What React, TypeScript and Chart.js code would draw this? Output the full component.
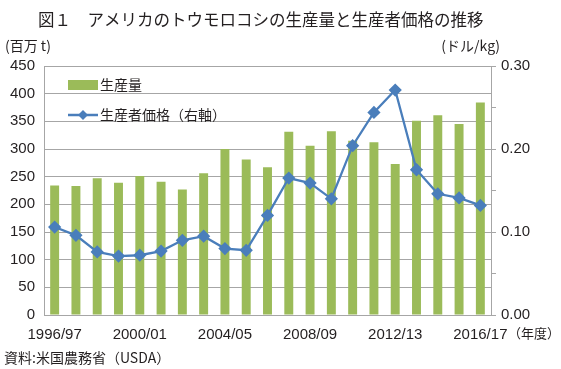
import React, { useEffect, useRef } from "react";
import { Chart, registerables } from "chart.js";

Chart.register(...registerables);

const categories = [
  "1996/97", "1997/98", "1998/99", "1999/00", "2000/01", "2001/02", "2002/03",
  "2003/04", "2004/05", "2005/06", "2006/07", "2007/08", "2008/09", "2009/10",
  "2010/11", "2011/12", "2012/13", "2013/14", "2014/15", "2015/16", "2016/17",
];

const production = [
  234, 233, 247, 239, 251, 241, 227, 256, 300, 281, 267,
  331, 306, 332, 315, 312, 273, 351, 361, 345, 384,
];

const price = [
  0.106, 0.096, 0.076, 0.071, 0.072, 0.077, 0.090, 0.095, 0.080, 0.078, 0.120,
  0.165, 0.159, 0.140, 0.204, 0.244, 0.271, 0.175, 0.146, 0.141, 0.132,
];

const titleText = "図１　アメリカのトウモロコシの生産量と生産者価格の推移";
const leftUnit = "(百万 t)";
const rightUnit = "(ドル/kg)";
const xUnit = "（年度）";
const sourceText = "資料:米国農務省（USDA）";
const barLabel = "生産量";
const lineLabel = "生産者価格（右軸）";

const GREEN = "#9bbb59";
const BLUE = "#4a7ebb";
const GRID = "#a6a6a6";
const TEXT = "#231f20";
const CJK = '"Noto Sans CJK JP", "Noto Sans", sans-serif';
const NUM = '"Liberation Sans", Arial, sans-serif';

const textPlugin = {
  id: "textPlugin",
  afterDraw(chart: any) {
    const ctx = chart.ctx;
    const area = chart.chartArea;
    ctx.save();
    ctx.fillStyle = TEXT;
    ctx.textBaseline = "middle";
    // title
    ctx.font = `16.5px ${CJK}`;
    ctx.textAlign = "left";
    ctx.fillText(titleText, 38, 20);
    // units
    ctx.font = `14px ${CJK}`;
    ctx.fillText(leftUnit, 5, 46);
    ctx.textAlign = "right";
    ctx.fillText(rightUnit, 500, 46);
    ctx.textAlign = "left";
    ctx.font = `13px ${CJK}`;
    ctx.fillText(xUnit, 508, 333);
    ctx.font = `14px ${CJK}`;
    ctx.fillText(sourceText, 4, 358);

    // legend
    const lx = area.left + 24;
    const y1 = 85;
    const y2 = 115;
    ctx.fillStyle = GREEN;
    ctx.fillRect(lx, y1 - 5, 30, 10);
    ctx.strokeStyle = BLUE;
    ctx.lineWidth = 2.5;
    ctx.beginPath();
    ctx.moveTo(lx, y2);
    ctx.lineTo(lx + 30, y2);
    ctx.stroke();
    ctx.fillStyle = BLUE;
    ctx.beginPath();
    const cx = lx + 15;
    const r = 5;
    ctx.moveTo(cx, y2 - r);
    ctx.lineTo(cx + r, y2);
    ctx.lineTo(cx, y2 + r);
    ctx.lineTo(cx - r, y2);
    ctx.closePath();
    ctx.fill();
    ctx.fillStyle = TEXT;
    ctx.font = `14px ${CJK}`;
    ctx.textAlign = "left";
    ctx.fillText(barLabel, lx + 32, y1);
    ctx.fillText(lineLabel, lx + 32, y2);
    ctx.restore();
  },
};

export default function App() {
  const ref = useRef<HTMLCanvasElement>(null);

  useEffect(() => {
    if (!ref.current) return;
    const chart = new Chart(ref.current, {
      type: "bar",
      data: {
        labels: categories,
        datasets: [
          {
            type: "bar",
            label: barLabel,
            data: production,
            backgroundColor: GREEN,
            yAxisID: "y",
            barPercentage: 0.42,
            categoryPercentage: 1,
            order: 2,
          },
          {
            type: "line",
            label: lineLabel,
            data: price,
            borderColor: BLUE,
            backgroundColor: BLUE,
            borderWidth: 2.3,
            pointStyle: "rectRot",
            pointRadius: 5,
            pointBackgroundColor: BLUE,
            pointBorderColor: BLUE,
            yAxisID: "y1",
            tension: 0,
            order: 1,
          } as any,
        ],
      },
      options: {
        responsive: false,
        animation: false,
        devicePixelRatio: 1,
        layout: { padding: { top: 66, left: 0, right: 0, bottom: 0 } },
        plugins: {
          legend: { display: false },
          title: { display: false },
          tooltip: { enabled: false },
        },
        scales: {
          x: {
            grid: { display: false },
            border: { display: true, color: GRID, width: 1 },
            ticks: {
              autoSkip: false,
              maxRotation: 0,
              minRotation: 0,
              padding: 3,
              color: TEXT,
              font: { family: NUM, size: 15 },
              callback: (_v: any, i: number) => (i % 4 === 0 ? categories[i] : ""),
            },
            afterFit: (s: any) => {
              s.height = 54;
            },
          },
          y: {
            position: "left",
            min: 0,
            max: 450,
            ticks: {
              stepSize: 50,
              padding: 9,
              color: TEXT,
              font: { family: NUM, size: 15 },
            },
            grid: { color: GRID, drawTicks: false, lineWidth: 1 },
            border: { display: true, color: GRID, width: 1 },
            afterFit: (s: any) => {
              s.width = 44;
            },
          },
          y1: {
            position: "right",
            min: 0,
            max: 0.3,
            ticks: {
              stepSize: 0.05,
              padding: 5,
              color: TEXT,
              font: { family: NUM, size: 15 },
              callback: (v: any) => {
                const n = Math.round(Number(v) * 100);
                return n % 10 === 0 ? (n / 100).toFixed(2) : "";
              },
            },
            grid: {
              drawOnChartArea: false,
              drawTicks: true,
              tickLength: 5,
              color: GRID,
            },
            border: { display: true, color: GRID, width: 1 },
            afterFit: (s: any) => {
              s.width = 70;
            },
          },
        },
      },
      plugins: [textPlugin],
    });
    return () => chart.destroy();
  }, []);

  return (
    <div style={{ position: "absolute", left: 0, top: 0, width: 561, height: 369, background: "#fff" }}>
      <canvas ref={ref} width={561} height={369} style={{ display: "block" }} />
    </div>
  );
}
